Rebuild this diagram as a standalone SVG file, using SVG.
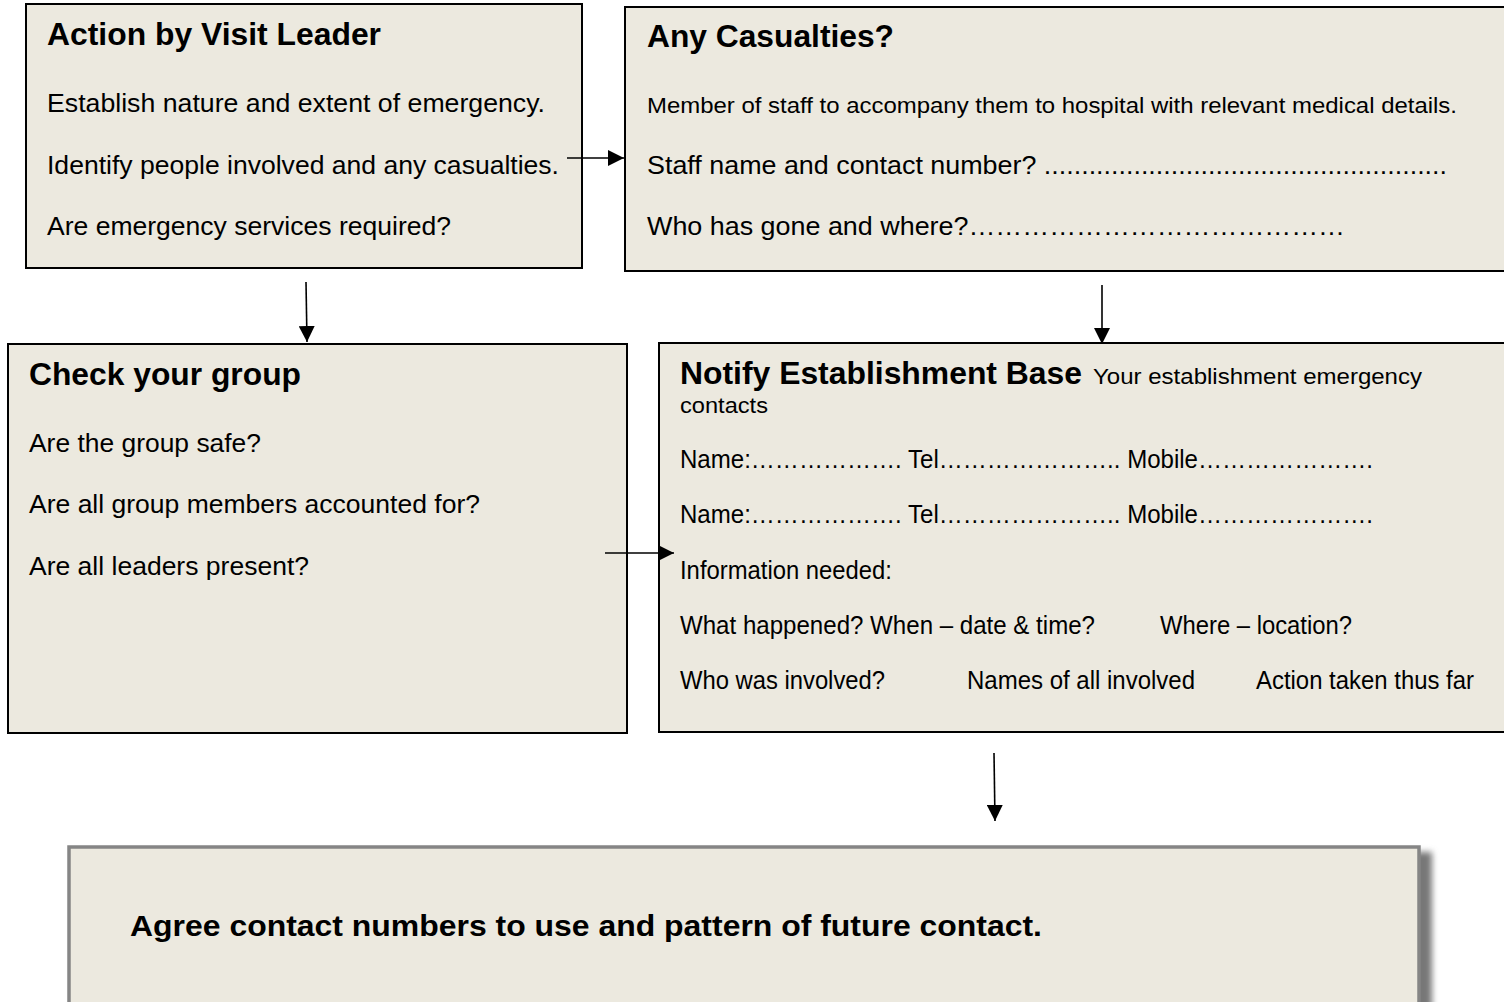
<svg xmlns="http://www.w3.org/2000/svg" width="1504" height="1002" viewBox="0 0 1504 1002">
<style>
.box{fill:#ECE9DF;stroke:#000;stroke-width:2}
.h{font-family:"Liberation Sans",Arial,sans-serif;font-weight:bold;font-size:31px;fill:#000}
.t{font-family:"Liberation Sans",Arial,sans-serif;font-size:25px;fill:#000}
.s{font-family:"Liberation Sans",Arial,sans-serif;font-size:22.5px;fill:#000}
.c{stroke:#000;stroke-width:1.6;fill:none;marker-end:url(#ah)}
</style>
<defs>
<marker id="ah" markerUnits="userSpaceOnUse" markerWidth="17" markerHeight="16" refX="16" refY="8" orient="auto">
<path d="M0,0 L16,8 L0,16 z" fill="#000"/>
</marker>
<filter id="sh" x="-5%" y="-20%" width="115%" height="150%">
<feGaussianBlur stdDeviation="3"/>
</filter>
</defs>
<rect width="1504" height="1002" fill="#fff"/>

<g id="action-by-visit-leader">
<rect class="box" x="26" y="4" width="556" height="264"/>
<text class="h" x="47" y="45" textLength="334" lengthAdjust="spacingAndGlyphs">Action by Visit Leader</text>
<text class="t" x="47" y="112" textLength="498" lengthAdjust="spacingAndGlyphs">Establish nature and extent of emergency.</text>
<text class="t" x="47" y="174" textLength="512" lengthAdjust="spacingAndGlyphs">Identify people involved and any casualties.</text>
<text class="t" x="47" y="235" textLength="404" lengthAdjust="spacingAndGlyphs">Are emergency services required?</text>
</g>

<g id="any-casualties">
<rect class="box" x="625" y="7" width="890" height="264"/>
<text class="h" x="647" y="47" textLength="247" lengthAdjust="spacingAndGlyphs">Any Casualties?</text>
<text class="s" x="647" y="113" textLength="810" lengthAdjust="spacingAndGlyphs">Member of staff to accompany them to hospital with relevant medical details.</text>
<text class="t" x="647" y="174" textLength="800" lengthAdjust="spacingAndGlyphs">Staff name and contact number? ......................................................</text>
<text class="t" x="647" y="235" textLength="698" lengthAdjust="spacingAndGlyphs">Who has gone and where?……………………………………</text>
</g>

<g id="check-your-group">
<rect class="box" x="8" y="344" width="619" height="389"/>
<text class="h" x="29" y="385" textLength="272" lengthAdjust="spacingAndGlyphs">Check your group</text>
<text class="t" x="29" y="452" textLength="232" lengthAdjust="spacingAndGlyphs">Are the group safe?</text>
<text class="t" x="29" y="513" textLength="451" lengthAdjust="spacingAndGlyphs">Are all group members accounted for?</text>
<text class="t" x="29" y="575" textLength="280" lengthAdjust="spacingAndGlyphs">Are all leaders present?</text>
</g>

<g id="notify-establishment-base">
<rect class="box" x="659" y="343" width="856" height="389"/>
<text class="h" x="680" y="384" textLength="402" lengthAdjust="spacingAndGlyphs">Notify Establishment Base</text>
<text class="s" x="1093" y="384" textLength="329" lengthAdjust="spacingAndGlyphs">Your establishment emergency</text>
<text class="s" x="680" y="413" textLength="88" lengthAdjust="spacingAndGlyphs">contacts</text>
<text class="t" x="680" y="468" textLength="693" lengthAdjust="spacingAndGlyphs">Name:………………. Tel………………….. Mobile………………….</text>
<text class="t" x="680" y="523" textLength="693" lengthAdjust="spacingAndGlyphs">Name:………………. Tel………………….. Mobile………………….</text>
<text class="t" x="680" y="579" textLength="212" lengthAdjust="spacingAndGlyphs">Information needed:</text>
<text class="t" x="680" y="634" textLength="415" lengthAdjust="spacingAndGlyphs">What happened?  When – date &amp; time?</text>
<text class="t" x="1160" y="634" textLength="192" lengthAdjust="spacingAndGlyphs">Where – location?</text>
<text class="t" x="680" y="689" textLength="205" lengthAdjust="spacingAndGlyphs">Who was involved?</text>
<text class="t" x="967" y="689" textLength="228" lengthAdjust="spacingAndGlyphs">Names of all involved</text>
<text class="t" x="1256" y="689" textLength="218" lengthAdjust="spacingAndGlyphs">Action taken thus far</text>
</g>

<g id="agree-contact-numbers">
<rect x="74" y="852" width="1358" height="160" fill="#777" filter="url(#sh)"/>
<rect x="69" y="847" width="1350" height="160" fill="#ECE9DF" stroke="#858585" stroke-width="3.5"/>
<text class="h" style="font-size:30px" x="130" y="936" textLength="912" lengthAdjust="spacingAndGlyphs">Agree contact numbers to use and pattern of future contact.</text>
</g>

<g id="connectors">
<line class="c" x1="567" y1="158" x2="624" y2="158"/>
<line class="c" x1="306" y1="282" x2="307" y2="342"/>
<line class="c" x1="1102" y1="285" x2="1102" y2="344"/>
<line class="c" x1="605" y1="553" x2="674" y2="553"/>
<line class="c" x1="994" y1="753" x2="995" y2="821"/>
</g>
</svg>
